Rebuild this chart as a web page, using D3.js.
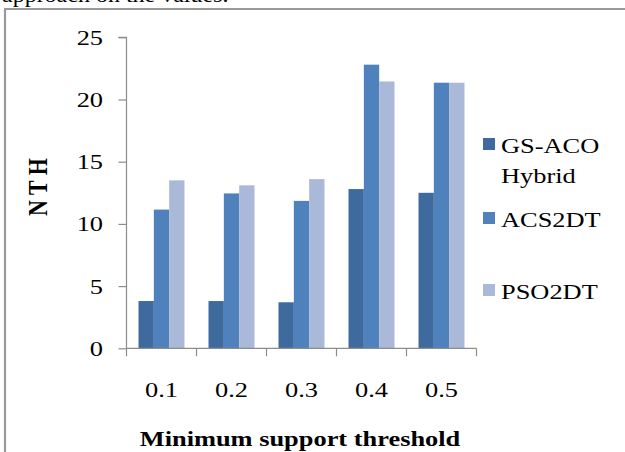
<!DOCTYPE html>
<html>
<head>
<meta charset="utf-8">
<script src="https://cdn.jsdelivr.net/npm/d3@7"></script>
<style>
  html, body { margin: 0; padding: 0; background: #fff; }
  svg { display: block; }
  text { font-family: "Liberation Serif", "Times New Roman", serif; fill: #000; }
</style>
</head>
<body>
<svg id="chart" width="625" height="452"></svg>
<script>
// Minimum support threshold categories
const thresholds = ["0.1", "0.2", "0.3", "0.4", "0.5"];
// Series names (legend order)
const seriesNames = ["GS-ACO Hybrid", "ACS2DT", "PSO2DT"];
// NTH values per threshold
const gsAcoHybrid = [3.8, 3.8, 3.7, 12.8, 12.5];
const acs2dt = [11.15, 12.45, 11.85, 22.8, 21.35];
const pso2dt = [13.5, 13.1, 13.6, 21.45, 21.35];
const yTicks = [0, 5, 10, 15, 20, 25];
const colors = ["#3F6A9D", "#4F81BD", "#AAB9D8"];

const seriesValues = [gsAcoHybrid, acs2dt, pso2dt];
const svg = d3.select("#chart");
const SX = 1.2;      // horizontal stretch of the text glyphs
const FS = 22;       // base font size

// Places a horizontally stretched text at (x, y)
function label(parent, x, y, str, opts = {}) {
  return parent.append("text")
    .attr("transform", `translate(${x},${y}) scale(${SX},1)`)
    .attr("text-anchor", opts.anchor || "start")
    .attr("font-size", opts.size || FS)
    .attr("font-weight", opts.weight || "normal")
    .text(str);
}

// Frame of the figure (left and top edges)
svg.append("line").attr("x1", 5).attr("x2", 5).attr("y1", 9).attr("y2", 452)
  .attr("stroke", "#999").attr("stroke-width", 2.2);
svg.append("line").attr("x1", 4).attr("x2", 625).attr("y1", 9).attr("y2", 9)
  .attr("stroke", "#999").attr("stroke-width", 2.2);

// Line of running text above the frame, mostly out of view
label(svg, 2, 2, "approach on the values.", { size: 20 });

const x0 = d3.scaleBand().domain(thresholds).range([126.5, 476.5])
  .paddingInner(0.343).paddingOuter(0.1715);
const x1 = d3.scaleBand().domain(d3.range(seriesNames.length))
  .range([0, x0.bandwidth()]);
const y = d3.scaleLinear().domain([0, 25]).range([348.3, 37.3]);

// Bars
const groups = svg.append("g").selectAll("g").data(thresholds).join("g")
  .attr("transform", d => `translate(${x0(d)},0)`);
groups.selectAll("rect")
  .data((d, i) => seriesValues.map((vals, s) => ({ s, v: vals[i] })))
  .join("rect")
  .attr("x", d => x1(d.s))
  .attr("width", x1.bandwidth())
  .attr("y", d => y(d.v))
  .attr("height", d => y(0) - y(d.v))
  .attr("fill", d => colors[d.s]);

// Y axis
const yAxis = svg.append("g").attr("transform", "translate(126.5,0)")
  .call(d3.axisLeft(y).tickValues(yTicks).tickSize(8));
yAxis.selectAll("path, line").attr("stroke", "#8c8c8c").attr("stroke-width", 1.2);
yAxis.select(".domain").attr("d", `M-8,${y(25)}H0V${y(0)}`);
yAxis.selectAll("text")
  .attr("transform", `scale(${SX},1)`)
  .attr("x", -23.5 / SX)
  .attr("font-size", FS)
  .attr("font-family", "Liberation Serif, serif").attr("fill", "#000");

// X axis line with ticks at category boundaries
const xAxis = svg.append("g");
xAxis.append("line").attr("x1", 126.5).attr("x2", 476.5)
  .attr("y1", y(0)).attr("y2", y(0)).attr("stroke", "#8c8c8c").attr("stroke-width", 1.2);
const step = x0.step();
xAxis.selectAll("line.tick").data(d3.range(thresholds.length + 1)).join("line")
  .attr("class", "tick")
  .attr("x1", i => 126.5 + i * step).attr("x2", i => 126.5 + i * step)
  .attr("y1", y(0)).attr("y2", y(0) + 8)
  .attr("stroke", "#8c8c8c").attr("stroke-width", 1.2);
thresholds.forEach(d => {
  label(xAxis, x0(d) + x0.bandwidth() / 2, 397, d, { anchor: "middle" });
});

// Axis titles
label(svg, 300, 446, "Minimum support threshold", { anchor: "middle", weight: "bold" });
svg.append("text").attr("transform", "translate(47,187) rotate(-90) scale(1,1.2)")
  .attr("text-anchor", "middle").attr("font-size", FS).attr("font-weight", "bold")
  .text("N T H");

// Legend
const legendRows = [
  { lines: ["GS-ACO", "Hybrid"], y: 153 },
  { lines: ["ACS2DT"], y: 227 },
  { lines: ["PSO2DT"], y: 299 }
];
const legend = svg.append("g");
legendRows.forEach((row, i) => {
  legend.append("rect").attr("x", 483).attr("y", row.y - 15)
    .attr("width", 12).attr("height", 12).attr("fill", colors[i]);
  row.lines.forEach((ln, j) => {
    label(legend, 501, row.y + j * 30, ln);
  });
});
</script>
</body>
</html>
